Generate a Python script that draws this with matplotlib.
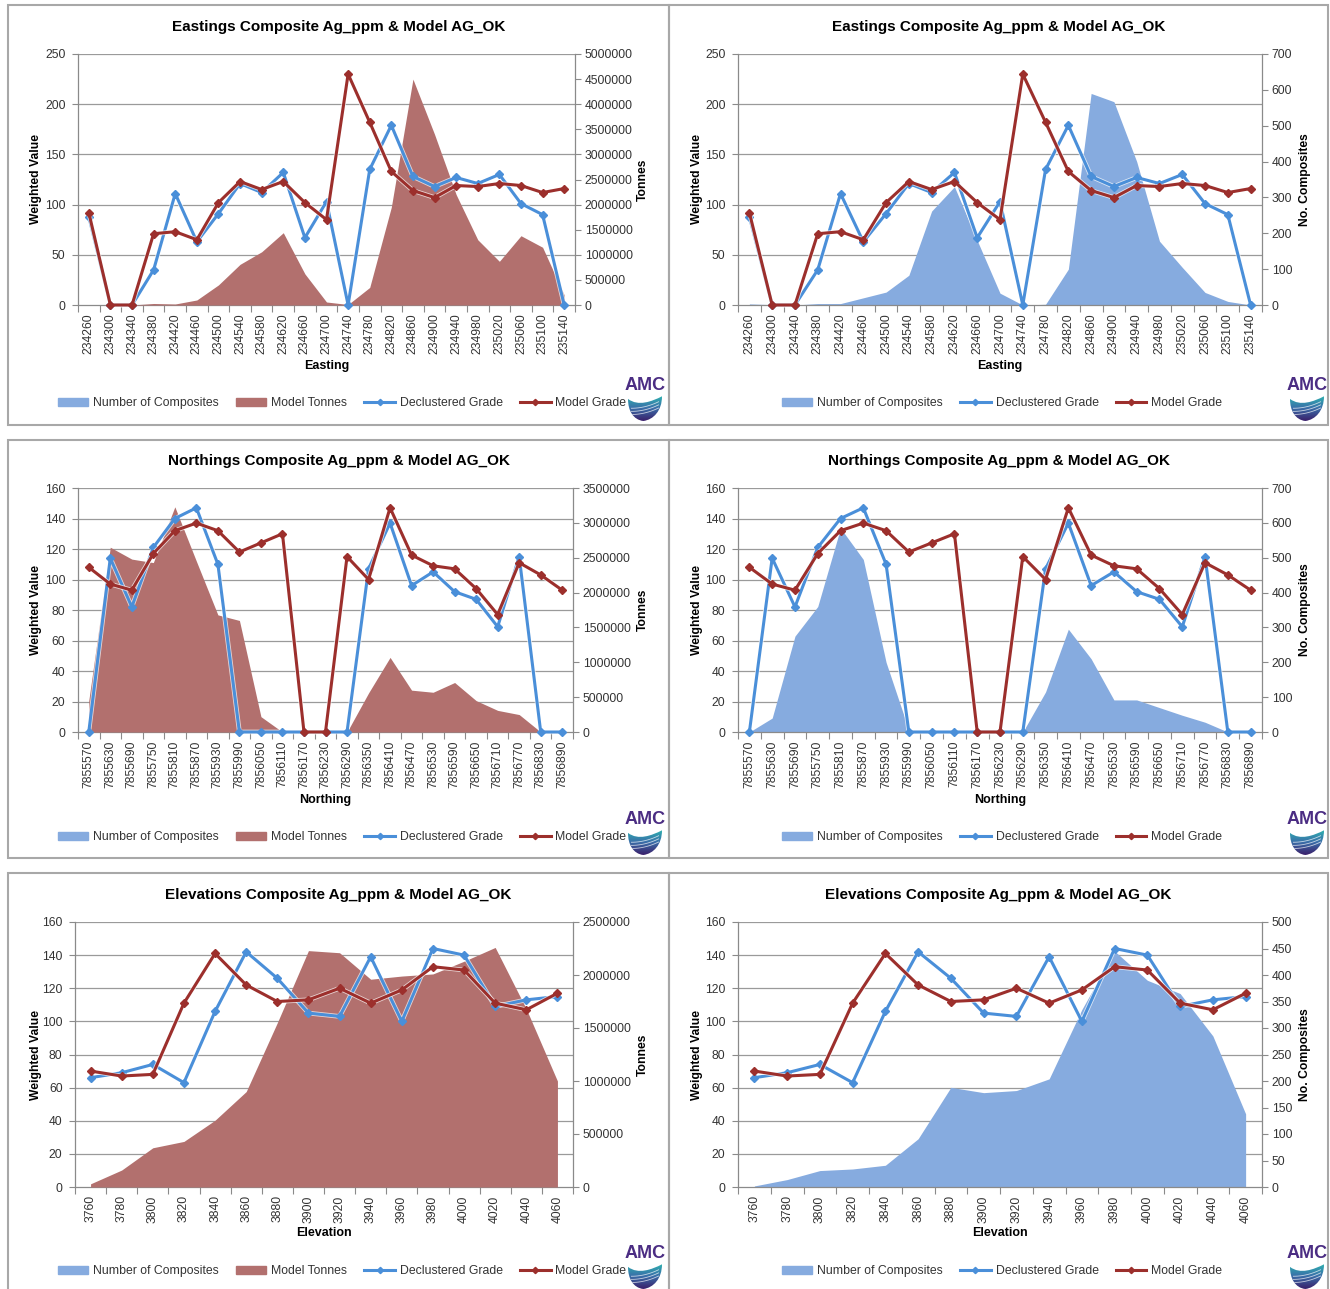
import numpy as np
import matplotlib
matplotlib.use("Agg")
import matplotlib.pyplot as plt
from matplotlib import ticker
from matplotlib.patches import Rectangle, PathPatch
from matplotlib.path import Path
from matplotlib.colors import LinearSegmentedColormap
import matplotlib.patheffects as pe

plt.rcParams['font.family'] = ['Liberation Sans', 'DejaVu Sans']

W, H = 1330, 1289

# Eastings swath
east_labels = ['234260', '234300', '234340', '234380', '234420', '234460', '234500', '234540',
               '234580', '234620', '234660', '234700', '234740', '234780', '234820', '234860',
               '234900', '234940', '234980', '235020', '235060', '235100', '235140']
east_decl = [88, 0, 0, 35, 111, 63, 91, 121, 112, 132, 67, 103, 0, 135, 179, 128,
             118, 127, 121, 130, 101, 90, 0]
east_model = [92, 0, 0, 71, 73, 65, 102, 123, 115, 123, 102, 85, 230, 182, 133, 114,
              107, 119, 118, 121, 119, 112, 116]
east_tonnes = [0, 0, 0, 30000, 20000, 100000, 400000, 810000, 1060000, 1440000, 620000,
               60000, 10000, 350000, 1950000, 4500000, 3400000, 2200000, 1300000, 870000,
               1380000, 1150000, 200000]
east_comps = [3, 1, 0, 4, 4, 20, 36, 83, 262, 330, 180, 33, 0, 2, 100, 590, 567, 400,
              178, 105, 35, 10, 0]

# Northings swath
north_labels = ['7855570', '7855630', '7855690', '7855750', '7855810', '7855870', '7855930',
                '7855990', '7856050', '7856110', '7856170', '7856230', '7856290', '7856350',
                '7856410', '7856470', '7856530', '7856590', '7856650', '7856710', '7856770',
                '7856830', '7856890']
north_decl = [0, 114, 82, 121, 140, 147, 110, 0, 0, 0, 0, 0, 0, 107, 137, 96, 105, 92,
              87, 69, 115, 0, 0]
north_model = [108, 97, 93, 117, 132, 137, 132, 118, 124, 130, 0, 0, 115, 100, 147, 116,
               109, 107, 94, 77, 111, 103, 93]
north_tonnes = [450000, 2650000, 2480000, 2430000, 3230000, 2450000, 1680000, 1600000,
                220000, 0, 0, 0, 0, 560000, 1070000, 600000, 570000, 710000, 450000,
                310000, 250000, 0, 0]
north_comps = [0, 40, 275, 360, 585, 495, 200, 5, 0, 0, 0, 0, 0, 115, 295, 210, 92, 92,
               70, 48, 28, 0, 0]

# Elevation swath
elev_labels = ['3760', '3780', '3800', '3820', '3840', '3860', '3880', '3900', '3920',
               '3940', '3960', '3980', '4000', '4020', '4040', '4060']
elev_decl = [66, 69, 74, 63, 106, 142, 126, 105, 103, 139, 100, 144, 140, 109, 113, 115]
elev_model = [70, 67, 68, 111, 141, 122, 112, 113, 120, 111, 119, 133, 131, 111, 107, 117]
elev_tonnes = [30000, 160000, 370000, 430000, 630000, 900000, 1550000, 2230000, 2210000,
               1960000, 1990000, 2010000, 2130000, 2260000, 1680000, 1000000]
elev_comps = [2, 14, 31, 34, 41, 91, 188, 178, 182, 204, 335, 445, 390, 365, 285, 138]

TONNES_C = '#B2706E'
COMPS_C = '#86ABDF'
DECL_C = '#4A8FD9'
MODEL_C = '#9C2F2C'
GRID_C = '#9A9A9A'
SPINE_C = '#8A8A8A'
TEXT_C = '#333333'
BORDER_C = '#A8A8A8'

fig = plt.figure(figsize=(W / 100, H / 100), dpi=100)


def rect(x0, y0, x1, y1):
    return [x0 / W, 1 - y1 / H, (x1 - x0) / W, (y1 - y0) / H]


def draw_logo(cx, ty):
    fig.text(cx / W, 1 - ty / H, 'AMC', color='#4B2D83', fontsize=13,
             fontweight='bold', ha='center', va='center')
    lax = fig.add_axes(rect(cx - 17, ty + 9, cx + 17, ty + 35))
    lax.set_xlim(0, 1)
    lax.set_ylim(0, 1)
    lax.axis('off')
    verts = [(0.0, 0.85), (0.3, 0.55), (0.7, 0.75), (1.0, 0.95),
             (1.0, 0.4), (0.75, 0.05), (0.45, 0.0),
             (0.15, 0.05), (0.0, 0.4), (0.0, 0.85), (0.0, 0.85)]
    codes = [Path.MOVETO] + [Path.CURVE4] * 9 + [Path.CLOSEPOLY]
    shield = PathPatch(Path(verts, codes), facecolor='none', edgecolor='none')
    lax.add_patch(shield)
    cmap = LinearSegmentedColormap.from_list('amc', ['#2DB5B0', '#3A6FA9', '#3B1F6B'])
    grad = np.linspace(0, 1, 64).reshape(-1, 1)
    im = lax.imshow(grad, extent=[0, 1, 0, 1], cmap=cmap, aspect='auto', origin='upper')
    im.set_clip_path(shield)
    t = np.linspace(0, 1, 30)
    for k in range(3):
        ln, = lax.plot(0.1 + 0.8 * t, 0.25 + 0.12 * k + 0.25 * t ** 2, color='white',
                       lw=0.6, alpha=0.7)
        ln.set_clip_path(shield)


def grade_line(ax, x, y, color, z):
    # line with a soft white halo, then plain markers on top
    halo = [pe.Stroke(linewidth=3.4, foreground='white', alpha=0.7), pe.Normal()]
    ax.plot(x, y, color=color, lw=2.2, path_effects=halo, clip_on=False, zorder=z)
    ax.plot(x, y, ls='none', marker='D', ms=3.6, color=color, clip_on=False, zorder=z)


def panel(box, plot, title_y, xlabel_y, legend_y, lab_x, labels, decl, model,
          comps, tonnes, title, xlabel, gmax, gstep, rmax, rstep, rlabel):
    # panel frame
    bx0, by0, bx1, by1 = box
    fig.add_artist(Rectangle((bx0 / W, 1 - by1 / H), (bx1 - bx0) / W, (by1 - by0) / H,
                             transform=fig.transFigure, fill=False,
                             edgecolor=BORDER_C, lw=1.5))

    n = len(labels)
    x = np.arange(n)
    ax_a = fig.add_axes(rect(*plot))
    ax_g = ax_a.twinx()

    # areas on the secondary scale
    ax_a.fill_between(x, comps, color=COMPS_C, lw=0, zorder=2)
    if tonnes is not None:
        ax_a.fill_between(x, tonnes, color=TONNES_C, lw=0, zorder=3)
    ax_a.set_xlim(-0.5, n - 0.5)
    ax_a.set_ylim(0, rmax)
    for g in np.arange(gstep, gmax + 1, gstep):
        ax_a.axhline(g * rmax / gmax, color=GRID_C, lw=0.9, zorder=1)

    ax_a.yaxis.tick_right()
    ax_a.set_yticks(np.arange(0, rmax + 1, rstep))
    ax_a.yaxis.set_major_formatter(ticker.FormatStrFormatter('%d'))
    ax_a.tick_params(axis='y', direction='out', length=4, width=0.8, color=SPINE_C,
                     labelsize=8.7, labelcolor=TEXT_C, pad=3)
    ax_a.set_xticks(np.arange(n + 1) - 0.5)
    ax_a.set_xticklabels([])
    ax_a.set_xticks(x, minor=True)
    ax_a.set_xticklabels(labels, minor=True, rotation=90)
    ax_a.tick_params(axis='x', which='major', direction='out', length=5, width=0.8,
                     color=SPINE_C)
    ax_a.tick_params(axis='x', which='minor', length=0, labelsize=8.7,
                     labelcolor=TEXT_C, pad=6)
    ax_a.spines['top'].set_visible(False)
    for s in ('left', 'right', 'bottom'):
        ax_a.spines[s].set_color(SPINE_C)
        ax_a.spines[s].set_linewidth(0.9)

    # grade lines on the primary scale
    grade_line(ax_g, x, decl, DECL_C, 3)
    grade_line(ax_g, x, model, MODEL_C, 4)
    ax_g.set_ylim(0, gmax)
    ax_g.yaxis.tick_left()
    ax_g.set_yticks(np.arange(0, gmax + 1, gstep))
    ax_g.tick_params(axis='y', direction='out', length=4, width=0.8, color=SPINE_C,
                     labelsize=8.7, labelcolor=TEXT_C, pad=5)
    for s in ax_g.spines.values():
        s.set_visible(False)

    px0, py0, px1, py1 = plot
    cx_box = (bx0 + bx1) / 2
    fig.text(cx_box / W, 1 - title_y / H, title, fontsize=11, fontweight='bold',
             ha='center', va='center', color='black')
    fig.text((px0 + px1) / 2 / W, 1 - xlabel_y / H, xlabel, fontsize=9, fontweight='bold',
             ha='center', va='center', color='black')
    cy = (py0 + py1) / 2
    fig.text(lab_x[0] / W, 1 - cy / H, 'Weighted Value', rotation=90, fontsize=8.7,
             fontweight='bold', ha='center', va='center')
    fig.text(lab_x[1] / W, 1 - cy / H, rlabel, rotation=90, fontsize=8.7,
             fontweight='bold', ha='center', va='center')

    # legend along the bottom of the panel
    handles = [Rectangle((0, 0), 1, 1, color=COMPS_C)]
    names = ['Number of Composites']
    if tonnes is not None:
        handles.append(Rectangle((0, 0), 1, 1, color=TONNES_C))
        names.append('Model Tonnes')
    handles.append(plt.Line2D([], [], color=DECL_C, lw=2.2, marker='D', ms=3.2))
    names.append('Declustered Grade')
    handles.append(plt.Line2D([], [], color=MODEL_C, lw=2.2, marker='D', ms=3.2))
    names.append('Model Grade')
    lx = 342 if tonnes is not None else 1002
    leg = fig.legend(handles, names, loc='center', bbox_to_anchor=(lx / W, 1 - legend_y / H),
                     ncol=len(names), frameon=False, fontsize=8.8, handlelength=2.5,
                     handletextpad=0.4, columnspacing=1.4, handleheight=0.6)
    for t in leg.get_texts():
        t.set_color(TEXT_C)

    logo_x = 645 if tonnes is not None else 1307
    draw_logo(logo_x, legend_y - 17)


title_e = 'Eastings Composite Ag_ppm & Model AG_OK'
title_n = 'Northings Composite Ag_ppm & Model AG_OK'
title_z = 'Elevations Composite Ag_ppm & Model AG_OK'

panel((8, 5, 669, 425), (78, 54, 575, 305), 27, 366, 403, (36, 643),
      east_labels, east_decl, east_model, east_comps, east_tonnes,
      title_e, 'Easting', 250, 50, 5000000, 500000, 'Tonnes')
panel((669, 5, 1328, 425), (738, 54, 1262, 305), 27, 366, 403, (697, 1305),
      east_labels, east_decl, east_model, east_comps, None,
      title_e, 'Easting', 250, 50, 700, 100, 'No. Composites')

panel((8, 440, 669, 858), (78, 488, 573, 732), 461, 800, 837, (36, 643),
      north_labels, north_decl, north_model, north_comps, north_tonnes,
      title_n, 'Northing', 160, 20, 3500000, 500000, 'Tonnes')
panel((669, 440, 1328, 858), (738, 488, 1262, 732), 461, 800, 837, (697, 1305),
      north_labels, north_decl, north_model, north_comps, None,
      title_n, 'Northing', 160, 20, 700, 100, 'No. Composites')

panel((8, 873, 669, 1295), (75, 922, 573, 1187), 895, 1233, 1271, (36, 643),
      elev_labels, elev_decl, elev_model, elev_comps, elev_tonnes,
      title_z, 'Elevation', 160, 20, 2500000, 500000, 'Tonnes')
panel((669, 873, 1328, 1295), (738, 922, 1262, 1187), 895, 1233, 1271, (697, 1305),
      elev_labels, elev_decl, elev_model, elev_comps, None,
      title_z, 'Elevation', 160, 20, 500, 50, 'No. Composites')

fig.savefig('out.png', dpi=100)
